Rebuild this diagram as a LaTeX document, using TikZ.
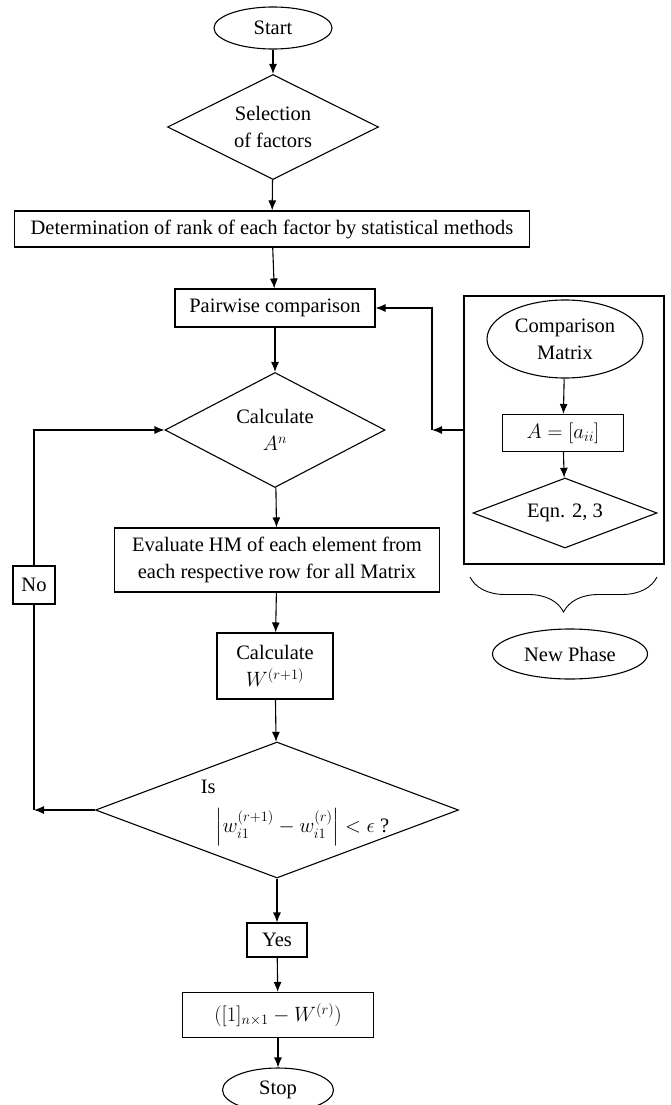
\documentclass[tikz,border=0pt]{standalone}
\usepackage{amsmath, amssymb}
\usepackage{fontspec}
\setmainfont{Liberation Serif}
\usetikzlibrary{shapes.geometric, arrows.meta, decorations.pathreplacing}
\tikzset{
->, % every connector is directed
>={Latex[length=10pt, width=8pt]}, % filled arrow heads
}

\begin{document}
\begin{tikzpicture}[
  x=1pt, y=-1pt,
  line width=1.1pt,
  every node/.style={draw, line width=1.1pt, inner sep=0pt, align=center, font=\fontsize{20.5}{27}\selectfont},
  term/.style={ellipse},
  proc/.style={rectangle},
  cond/.style={diamond, aspect=2},
  plain/.style={draw=none}
]
  \useasboundingbox (0,0) rectangle (670,1105);
  % main column
  \node[term, minimum width=118, minimum height=42] (start) at (273,28) {Start};
  \node[cond, minimum width=211, minimum height=105] (select) at (273,127) {Selection\\of factors};
  \node[proc, minimum width=515, minimum height=36] (rank) at (272,229) {Determination of rank of each factor by statistical methods};
  \node[proc, minimum width=200, minimum height=38] (pair) at (275,308) {Pairwise comparison};
  \node[cond, minimum width=220, minimum height=115] (calcA) at (275,430) {Calculate\\$A^n$};
  \node[proc, minimum width=325, minimum height=64] (hm) at (277,560) {Evaluate HM of each element from\\each respective row for all Matrix};
  \node[proc, minimum width=116, minimum height=66] (calcW) at (275,666) {Calculate\\$W^{(r+1)}$};
  \node[cond, minimum width=363, minimum height=136] (conv) at (277,810) {};
  \node[plain, align=left] (convtext) at (295,813) {Is\\[12pt]\hspace*{15pt}$\left|w_{i1}^{(r+1)}-w_{i1}^{(r)}\right|<\epsilon$ ?};
  \node[proc, minimum width=60, minimum height=34] (yes) at (277,940) {Yes};
  \node[proc, minimum width=191, minimum height=45] (final) at (278,1015) {$([1]_{n\times 1}-W^{(r)})$};
  \node[term, minimum width=111, minimum height=44] (stop) at (278,1090) {Stop};
  \node[proc, minimum width=42, minimum height=38] (no) at (34,585) {No};
  % side phase
  \node[proc, minimum width=200, minimum height=268] (phase) at (564,430) {};
  \node[term, minimum width=156, minimum height=78] (cmp) at (565,339) {Comparison\\Matrix};
  \node[proc, minimum width=121, minimum height=37] (amat) at (563,433) {$A=[a_{ii}]$};
  \node[cond, aspect=2.6, minimum width=184, minimum height=70] (eqn) at (565,513) {Eqn. 2, 3};
  \node[term, minimum width=155, minimum height=50] (newph) at (570,654) {New Phase};
  \coordinate (fb) at (432,430);
  \coordinate (nl) at (34,810);

  \draw (start) -- (select);
  \draw (select) -- (rank);
  \draw (rank) -- (pair);
  \draw (pair) -- (calcA);
  \draw (calcA) -- (hm);
  \draw (hm) -- (calcW);
  \draw (calcW) -- (conv);
  \draw (conv) -- (yes);
  \draw (yes) -- (final);
  \draw (final) -- (stop);
  \draw (conv.west) -- (nl);
  \draw[-] (nl) -- (no.south);
  \draw (no.north) |- (calcA.west);
  \draw (cmp) -- (amat);
  \draw (amat) -- (eqn);
  \draw (phase.west) -- (fb);
  \draw (fb) |- (pair.east);
  \draw[-, line width=0.9pt, decorate, decoration={brace, mirror, amplitude=35pt}] (470,577) -- (657,577);
\end{tikzpicture}
\end{document}
